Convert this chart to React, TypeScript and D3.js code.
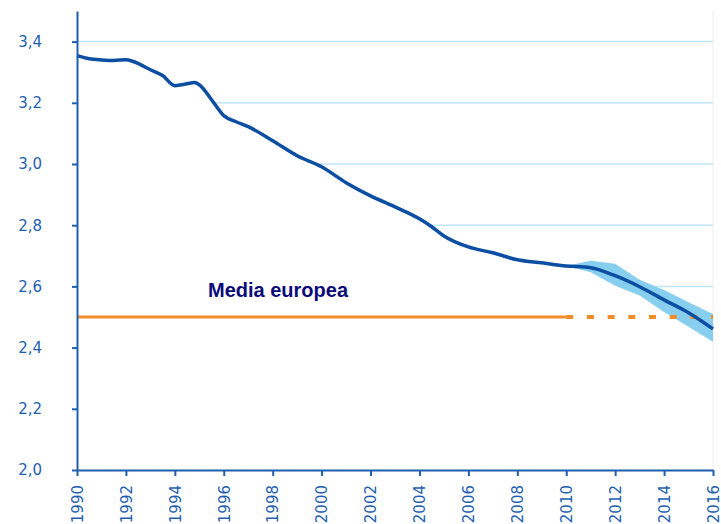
import React, { useEffect, useRef } from 'react';
import * as d3 from 'd3';

// main series
const years = [1990, 1990.5, 1991, 1991.5, 1992, 1992.3, 1993, 1993.5, 1994, 1994.5, 1994.8, 1995, 1995.5, 1996, 1996.5, 1997, 1998, 1999, 2000, 2001, 2002, 2003, 2004, 2004.5, 2005, 2006, 2007, 2008, 2009, 2010, 2011, 2012, 2013, 2014, 2015, 2016];
const values = [3.354, 3.344, 3.34, 3.338, 3.341, 3.335, 3.308, 3.289, 3.256, 3.262, 3.266, 3.259, 3.21, 3.158, 3.138, 3.122, 3.076, 3.027, 2.991, 2.939, 2.896, 2.86, 2.821, 2.795, 2.765, 2.729, 2.71, 2.687, 2.677, 2.667, 2.661, 2.635, 2.599, 2.556, 2.514, 2.461];

// forecast band
const bandYears = [2010, 2011, 2012, 2013, 2014, 2015, 2016];
const bandUpper = [2.667, 2.684, 2.674, 2.622, 2.588, 2.548, 2.51];
const bandLower = [2.667, 2.646, 2.602, 2.57, 2.516, 2.468, 2.419];

const euAverage = 2.5;
const euLabel = 'Media europea';
const yTicks = [2.0, 2.2, 2.4, 2.6, 2.8, 3.0, 3.2, 3.4];
const xTicks = d3.range(1990, 2017, 2);

const App = () => {
  const ref = useRef<SVGSVGElement>(null);

  useEffect(() => {
    document.body.style.margin = '0';
    const svg = d3.select(ref.current);
    svg.selectAll('*').remove();

    const axisColor = '#1F5FAF';
    const x = d3.scaleLinear().domain([1990, 2016]).range([77, 713]);
    const y = d3.scaleLinear().domain([2.0, 3.5]).range([470, 11]);

    const main = years.map((yr, i) => ({ x: yr, y: values[i] }));
    const band = bandYears.map((yr, i) => ({ x: yr, hi: bandUpper[i], lo: bandLower[i] }));

    // gridlines
    svg.append('g')
      .selectAll('line')
      .data(yTicks.filter(t => t > 2.0))
      .enter()
      .append('line')
      .attr('x1', x(1990))
      .attr('x2', x(2016))
      .attr('y1', d => y(d))
      .attr('y2', d => y(d))
      .attr('stroke', '#BFE6F7')
      .attr('stroke-width', 1.5);

    // white fill under the curve hides gridlines
    svg.append('path')
      .datum(main)
      .attr('fill', '#ffffff')
      .attr('d', d3.area<any>().x(d => x(d.x)).y0(y(2.0)).y1(d => y(d.y)).curve(d3.curveMonotoneX));
    svg.append('path')
      .datum(band)
      .attr('fill', '#ffffff')
      .attr('d', d3.area<any>().x(d => x(d.x)).y0(y(2.0)).y1(d => y(d.hi)));

    svg.append('line')
      .attr('x1', x(2016)).attr('x2', x(2016))
      .attr('y1', y(3.5)).attr('y2', y(2.0))
      .attr('stroke', '#EEEEEE').attr('stroke-width', 1);

    // band
    svg.append('path')
      .datum(band)
      .attr('fill', '#87CEEF')
      .attr('d', d3.area<any>().x(d => x(d.x)).y0(d => y(d.lo)).y1(d => y(d.hi)));

    // european average
    svg.append('line')
      .attr('x1', x(1990)).attr('x2', x(2010))
      .attr('y1', y(euAverage)).attr('y2', y(euAverage))
      .attr('stroke', '#F28C28').attr('stroke-width', 3);
    svg.append('line')
      .attr('x1', x(2010)).attr('x2', x(2016))
      .attr('y1', y(euAverage)).attr('y2', y(euAverage))
      .attr('stroke', '#F28C28').attr('stroke-width', 4)
      .attr('stroke-dasharray', '7 13.7');

    svg.append('text')
      .attr('x', 208)
      .attr('y', 297)
      .attr('font-family', '"Liberation Sans", Arial, sans-serif')
      .attr('font-weight', 'bold')
      .attr('font-size', 20)
      .attr('fill', '#0A0A7A')
      .text(euLabel);

    // main line
    svg.append('path')
      .datum(main)
      .attr('fill', 'none')
      .attr('stroke', '#0B4EA2')
      .attr('stroke-width', 3.5)
      .attr('stroke-linejoin', 'round')
      .attr('d', d3.line<any>().x(d => x(d.x)).y(d => y(d.y)).curve(d3.curveMonotoneX));

    // axes
    const yAxis = svg.append('g')
      .attr('transform', `translate(${x(1990)},0)`)
      .call(d3.axisLeft(y).tickValues(yTicks).tickSize(5).tickSizeOuter(0)
        .tickPadding(30).tickFormat(d => d3.format('.1f')(d as number).replace('.', ',')));
    const xAxis = svg.append('g')
      .attr('transform', `translate(0,${y(2.0)})`)
      .call(d3.axisBottom(x).tickValues(xTicks).tickSize(6).tickSizeOuter(0).tickFormat(d3.format('d')));

    [yAxis, xAxis].forEach(g => {
      g.select('.domain').attr('stroke', axisColor).attr('stroke-width', 2);
      g.selectAll('.tick line').attr('stroke', axisColor).attr('stroke-width', 2);
      g.selectAll('.tick text')
        .attr('fill', axisColor)
        .attr('font-family', '"DejaVu Sans", Verdana, sans-serif')
        .attr('font-size', 15);
    });

    xAxis.selectAll('.tick text')
      .attr('text-anchor', 'end')
      .attr('transform', 'translate(0,15) rotate(-90)')
      .attr('x', 0)
      .attr('y', 0)
      .attr('dy', '0.35em');
  }, []);

  return <svg ref={ref} width={721} height={524} style={{ display: 'block', background: '#fff' }} />;
};

export default App;
